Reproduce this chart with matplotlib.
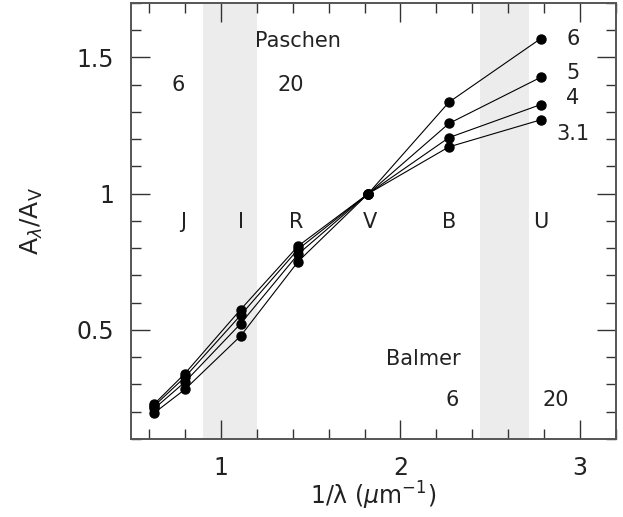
import matplotlib
matplotlib.use("Agg")
import matplotlib.pyplot as plt
from matplotlib.ticker import MultipleLocator, FuncFormatter

# inverse wavelength of the photometric bands (H unlabelled, J, I, R, V, B, U)
inv_wl = [0.63, 0.80, 1.11, 1.43, 1.82, 2.27, 2.78]
band_names = ["J", "I", "R", "V", "B", "U"]
band_x = [0.79, 1.11, 1.42, 1.83, 2.27, 2.78]

# curves, labelled as in the figure
curve_labels = ["6", "5", "4", "3.1"]
curve_6 = [0.196, 0.282, 0.478, 0.751, 1.0, 1.336, 1.569]
curve_5 = [0.212, 0.309, 0.523, 0.778, 1.0, 1.258, 1.427]
curve_4 = [0.222, 0.327, 0.554, 0.796, 1.0, 1.206, 1.327]
curve_31 = [0.229, 0.340, 0.575, 0.808, 1.0, 1.172, 1.271]
curves = [curve_6, curve_5, curve_4, curve_31]
label_y = [1.567, 1.444, 1.350, 1.219]

# shaded series-limit regions
paschen_band = (0.9, 1.2)
balmer_band = (2.445, 2.715)

txtc = "#222222"
fig = plt.figure(figsize=(6.23, 5.17), dpi=100)
ax = fig.add_axes([0.2103, 0.1509, 0.7785, 0.8433])

ax.axvspan(*paschen_band, color="#ececec", lw=0, zorder=0)
ax.axvspan(*balmer_band, color="#ececec", lw=0, zorder=0)

for c in curves:
    ax.plot(inv_wl, c, color="black", lw=0.8, marker="o", ms=6.5, zorder=3)

for lab, y in zip(curve_labels, label_y):
    ax.text(2.96, y, lab, ha="center", va="center", fontsize=15, color=txtc)

for n, x in zip(band_names, band_x):
    ax.text(x, 0.895, n, ha="center", va="center", fontsize=15, color=txtc)

ax.text(1.43, 1.56, "Paschen", ha="center", va="center", fontsize=15, color=txtc)
ax.text(0.765, 1.40, "6", ha="center", va="center", fontsize=15, color=txtc)
ax.text(1.39, 1.40, "20", ha="center", va="center", fontsize=15, color=txtc)
ax.text(2.125, 0.394, "Balmer", ha="center", va="center", fontsize=15, color=txtc)
ax.text(2.287, 0.242, "6", ha="center", va="center", fontsize=15, color=txtc)
ax.text(2.862, 0.242, "20", ha="center", va="center", fontsize=15, color=txtc)

ax.set_xlim(0.5, 3.2)
ax.set_ylim(0.1, 1.7)
ax.xaxis.set_major_locator(MultipleLocator(1))
ax.xaxis.set_minor_locator(MultipleLocator(0.2))
ax.yaxis.set_major_locator(MultipleLocator(0.5))
ax.yaxis.set_minor_locator(MultipleLocator(0.1))
fmt = FuncFormatter(lambda v, p: ("%g" % v))
ax.xaxis.set_major_formatter(fmt)
ax.yaxis.set_major_formatter(fmt)

for s in ax.spines.values():
    s.set_color("#555555")
    s.set_linewidth(1.4)
ax.tick_params(which="both", direction="in", top=True, right=True,
               color="#333333", width=1.0)
ax.tick_params(which="major", length=13.5, labelsize=17, pad=12,
               labelcolor=txtc)
ax.tick_params(which="minor", length=7)

ax.set_xlabel("1/λ ($\\mu$m$^{-1}$)", fontsize=17, color=txtc)
ax.set_ylabel(r"A$_\lambda$/A$_{\rm V}$", fontsize=18, color=txtc)
ax.xaxis.set_label_coords(0.5, -0.093)
ax.yaxis.set_label_coords(-0.177, 0.5)

fig.savefig("out.png", dpi=100)
